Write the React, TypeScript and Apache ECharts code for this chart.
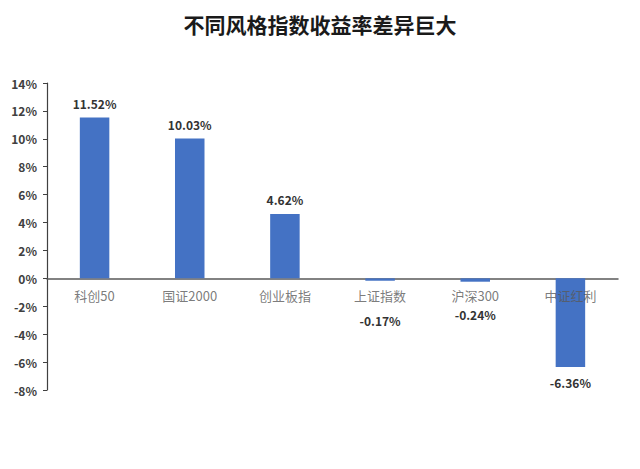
import { useEffect, useRef } from 'react';
import * as echarts from 'echarts';

const categories = ['科创50', '国证2000', '创业板指', '上证指数', '沪深300', '中证红利'];
const returns = [11.52, 10.03, 4.62, -0.17, -0.24, -6.36];
// 负值标签的额外下移（避开分类标签）
const labelShift = [0, 0, 0, 26, 19, 1];

const TITLE = '不同风格指数收益率差异巨大';
const CJK = '"Noto Sans CJK SC", "Noto Sans", sans-serif';

export default function App() {
  const ref = useRef<HTMLDivElement>(null);

  useEffect(() => {
    document.body.style.margin = '0';
    const dom = ref.current!;
    const chart = echarts.init(dom, null, { renderer: 'svg' });

    const data = returns.map((v, i) => ({
      value: v,
      label: {
        position: v >= 0 ? 'top' : 'bottom',
        offset: [0, labelShift[i]],
      },
    }));

    chart.setOption({
      animation: false,
      backgroundColor: '#ffffff',
      title: {
        text: TITLE,
        left: 'center',
        top: 8,
        textStyle: { fontFamily: CJK, fontSize: 21, fontWeight: 'bold', color: '#1a1a1a' },
      },
      grid: { left: 47, right: 22, top: 83, bottom: 79, containLabel: false },
      xAxis: {
        type: 'category',
        data: categories,
        axisLine: { onZero: true, lineStyle: { color: '#595959', width: 1.5 } },
        axisTick: { show: false },
        axisLabel: { show: false },
      },
      yAxis: {
        type: 'value',
        min: -8,
        max: 14,
        interval: 2,
        splitLine: { show: false },
        axisLine: { show: true, lineStyle: { color: '#404040', width: 1.2 } },
        axisTick: { show: true, length: 4, lineStyle: { color: '#404040' } },
        axisLabel: {
          formatter: '{value}%',
          fontFamily: CJK,
          fontSize: 12,
          fontWeight: 'bold',
          color: '#404040',
          margin: 10,
        },
      },
      series: [
        {
          type: 'bar',
          data,
          barWidth: '31%',
          itemStyle: { color: '#4472c4' },
          z: 2,
          label: {
            show: true,
            formatter: (p: any) => `${p.value.toFixed(2)}%`,
            fontFamily: CJK,
            fontSize: 12,
            fontWeight: 'bold',
            color: '#333333',
            distance: 8,
          },
        },
        {
          // 分类标签贴在零轴下方
          type: 'scatter',
          data: categories.map(() => 0),
          symbolSize: 1,
          itemStyle: { color: 'rgba(0,0,0,0)' },
          silent: true,
          z: 5,
          label: {
            show: true,
            position: 'bottom',
            distance: 10,
            formatter: (p: any) => p.name,
            fontFamily: CJK,
            fontSize: 13,
            color: '#595959',
          },
        },
      ],
    } as echarts.EChartsOption);

    return () => {
      chart.dispose();
    };
  }, []);

  return <div ref={ref} style={{ width: 640, height: 469 }} />;
}
